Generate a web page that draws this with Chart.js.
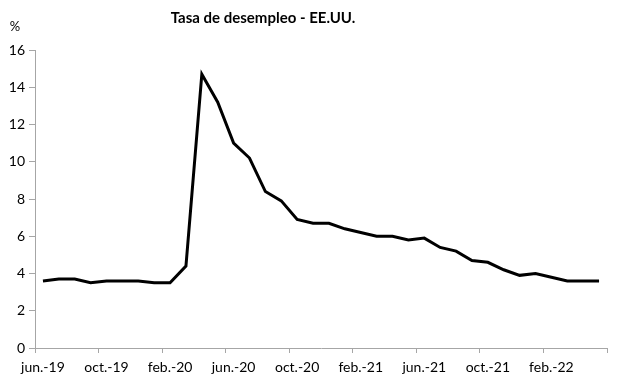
<!DOCTYPE html>
<html>
<head>
<meta charset="utf-8">
<script src="https://cdn.jsdelivr.net/npm/chart.js@4"></script>
<style>
  html, body { margin: 0; padding: 0; background: #fff; }
  #wrap { width: 617px; height: 379px; }
</style>
</head>
<body>
<div id="wrap"><canvas id="chart"></canvas></div>
<script>
const months = [
  "jun.-19", "jul.-19", "ago.-19", "sep.-19", "oct.-19", "nov.-19", "dic.-19",
  "ene.-20", "feb.-20", "mar.-20", "abr.-20", "may.-20", "jun.-20", "jul.-20",
  "ago.-20", "sep.-20", "oct.-20", "nov.-20", "dic.-20", "ene.-21", "feb.-21",
  "mar.-21", "abr.-21", "may.-21", "jun.-21", "jul.-21", "ago.-21", "sep.-21",
  "oct.-21", "nov.-21", "dic.-21", "ene.-22", "feb.-22", "mar.-22", "abr.-22",
  "may.-22"
];
const unemployment = [
  3.6, 3.7, 3.7, 3.5, 3.6, 3.6, 3.6,
  3.5, 3.5, 4.4, 14.7, 13.2, 11.0, 10.2,
  8.4, 7.9, 6.9, 6.7, 6.7, 6.4, 6.2,
  6.0, 6.0, 5.8, 5.9, 5.4, 5.2, 4.7,
  4.6, 4.2, 3.9, 4.0, 3.8, 3.6, 3.6,
  3.6
];
const titleText = "Tasa de desempleo - EE.UU.";
const unitText = "%";

const FONT = "Lato, sans-serif";
const AXIS_GRAY = "#a6a6a6";

// title and unit label drawn by hand, Excel style
const textPlugin = {
  id: "textPlugin",
  afterDraw(chart) {
    const ctx = chart.ctx;
    ctx.save();
    ctx.fillStyle = "#000";
    ctx.textAlign = "center";
    ctx.textBaseline = "middle";
    ctx.font = "bold 15px " + FONT;
    ctx.fillText(titleText, 263, 18);
    ctx.font = "13px " + FONT;
    ctx.fillText(unitText, 15, 27);
    ctx.restore();
  }
};

new Chart(document.getElementById("chart"), {
  type: "line",
  data: {
    labels: months,
    datasets: [{
      data: unemployment,
      borderColor: "#000",
      borderWidth: 3,
      pointRadius: 0,
      tension: 0,
      fill: false
    }]
  },
  options: {
    responsive: true,
    maintainAspectRatio: false,
    animation: false,
    layout: { padding: { top: 50, right: 10, left: 0, bottom: 0 } },
    plugins: {
      legend: { display: false },
      tooltip: { enabled: false }
    },
    scales: {
      x: {
        offset: true,
        grid: {
          offset: true,
          drawOnChartArea: false,
          drawTicks: true,
          tickLength: 5,
          color: (c) => (c.type !== "tick" || c.index % 4 === 0) ? AXIS_GRAY : "rgba(0,0,0,0)"
        },
        border: { display: true, color: AXIS_GRAY, width: 1 },
        ticks: {
          autoSkip: false,
          maxRotation: 0,
          color: "#000",
          font: { family: FONT, size: 14 },
          padding: 6,
          callback: function (v, i) { return i % 4 === 0 ? this.getLabelForValue(v) : ""; }
        },
        afterFit: (s) => { s.height = 31; }
      },
      y: {
        min: 0,
        max: 16,
        grid: {
          drawOnChartArea: false,
          drawTicks: true,
          tickLength: 6,
          color: AXIS_GRAY
        },
        border: { display: true, color: AXIS_GRAY, width: 1 },
        ticks: {
          stepSize: 2,
          color: "#000",
          font: { family: FONT, size: 14 },
          padding: 4
        },
        afterFit: (s) => { s.width = 35; }
      }
    }
  },
  plugins: [textPlugin]
});
</script>
</body>
</html>
